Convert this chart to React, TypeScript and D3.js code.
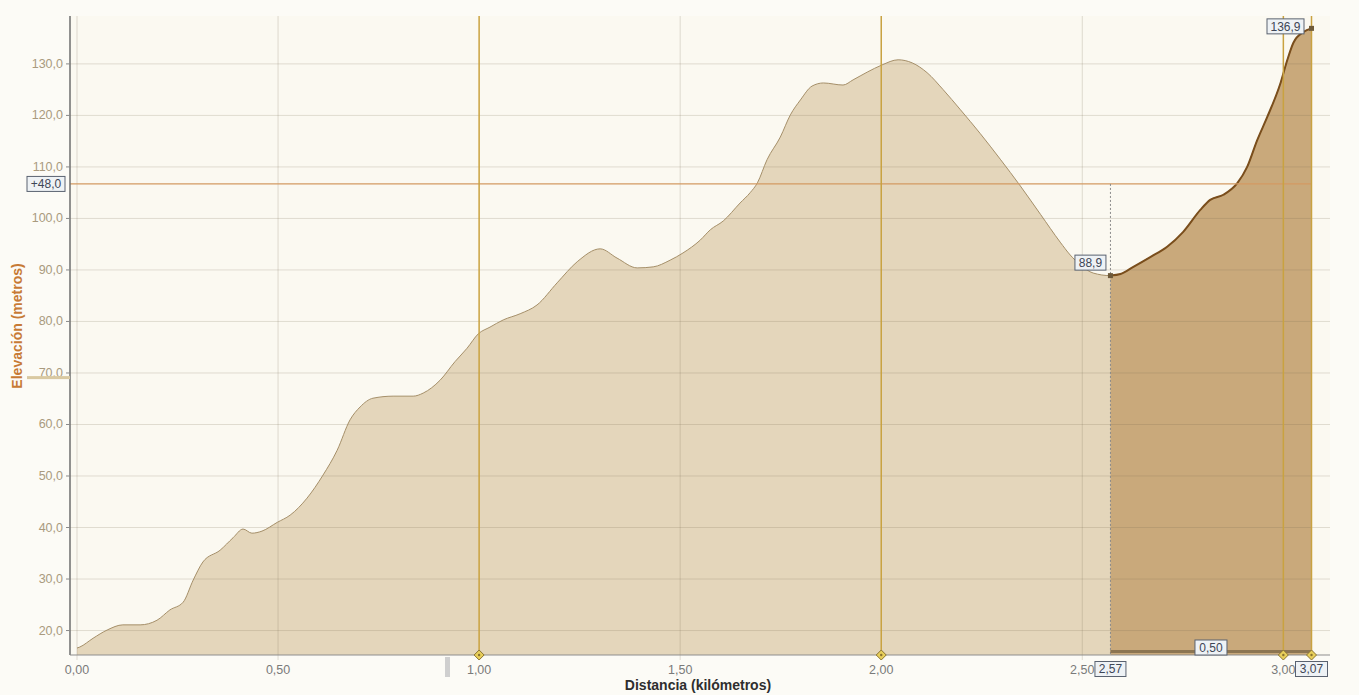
import React from "react";
import * as d3 from "d3";

const distKm = [0.0, 0.007, 0.04, 0.075, 0.114, 0.157, 0.199, 0.231, 0.264, 0.289, 0.313, 0.356, 0.388, 0.413, 0.435, 0.46, 0.498, 0.53, 0.572, 0.612, 0.647, 0.679, 0.704, 0.736, 0.786, 0.836, 0.861, 0.903, 0.94, 0.97, 0.998, 1.027, 1.06, 1.102, 1.144, 1.194, 1.244, 1.301, 1.343, 1.393, 1.433, 1.475, 1.507, 1.55, 1.575, 1.607, 1.649, 1.674, 1.692, 1.716, 1.749, 1.774, 1.799, 1.828, 1.856, 1.905, 1.93, 1.965, 2.002, 2.042, 2.077, 2.114, 2.154, 2.197, 2.246, 2.296, 2.346, 2.396, 2.445, 2.47, 2.495, 2.527, 2.57, 2.595, 2.627, 2.669, 2.711, 2.751, 2.794, 2.818, 2.851, 2.886, 2.91, 2.935, 2.96, 2.993, 3.01, 3.025, 3.05, 3.07];
const elevM = [16.6, 16.8, 18.5, 20.1, 21.1, 21.1, 22.0, 24.0, 25.5, 29.8, 33.3, 35.6, 38.0, 39.7, 38.9, 39.3, 41.0, 42.4, 45.7, 50.2, 55.0, 60.9, 63.4, 65.1, 65.5, 65.5, 66.1, 68.6, 72.2, 74.8, 77.6, 78.9, 80.3, 81.5, 83.2, 87.5, 91.6, 94.1, 92.3, 90.4, 90.6, 91.9, 93.3, 95.8, 97.8, 99.5, 103.0, 105.0, 106.9, 111.4, 115.8, 120.1, 123.0, 125.7, 126.3, 125.9, 126.9, 128.4, 129.8, 130.8, 130.2, 128.3, 125.0, 121.1, 116.5, 111.5, 106.3, 100.8, 95.4, 92.9, 91.0, 89.4, 88.9, 89.2, 90.6, 92.5, 94.5, 97.4, 101.7, 103.6, 104.6, 106.9, 110.0, 115.2, 119.7, 126.3, 130.8, 134.1, 136.2, 136.9];

const yTicks = [20, 30, 40, 50, 60, 70, 80, 90, 100, 110, 120, 130];
const xTicks = [0, 0.5, 1.0, 1.5, 2.0, 2.5, 3.0];
const kmMarkers = [1.0, 2.0, 3.0];
const selStart = 2.57;
const selEnd = 3.07;
const selMinElev = 88.9;
const selMaxElev = 136.9;
const gainRefElev = 106.7;
const gainLabel = "+48,0";
const selLengthLabel = "0,50";
const yTitle = "Elevación (metros)";
const xTitle = "Distancia (kilómetros)";

const W = 1359;
const H = 695;
const plotLeft = 70;
const plotRight = 1330;
const plotTop = 16;
const plotBottom = 655;

const fmt1 = (v: number) => d3.format(".1f")(v).replace(".", ",");
const fmt2 = (v: number) => d3.format(".2f")(v).replace(".", ",");

export default function App() {
  const x = d3.scaleLinear().domain([0, 3.07]).range([77, 1311.5]);
  const y = d3.scaleLinear().domain([15.25, 139.3]).range([plotBottom, plotTop]);

  const pts = distKm.map((d, i) => ({ d, e: elevM[i] }));
  const selPts = pts.filter((p) => p.d >= selStart - 1e-9 && p.d <= selEnd + 1e-9);

  const area = d3
    .area<{ d: number; e: number }>()
    .x((p) => x(p.d))
    .y0(plotBottom)
    .y1((p) => y(p.e))
    .curve(d3.curveMonotoneX);
  const line = d3
    .line<{ d: number; e: number }>()
    .x((p) => x(p.d))
    .y((p) => y(p.e))
    .curve(d3.curveMonotoneX);

  const font = "'Liberation Sans', Arial, sans-serif";
  const gold = "#c9a240";

  const box = (cx: number, cy: number, w: number, text: string, key: string) => (
    <g key={key}>
      <rect x={cx - w / 2} y={cy - 7.5} width={w} height={15} fill="#eef2f5" stroke="#5a6270" strokeWidth={1} />
      <text x={cx} y={cy + 4.3} textAnchor="middle" fontSize={12} fill="#3e4656" fontFamily={font}>
        {text}
      </text>
    </g>
  );

  const diamond = (cx: number, cy: number, key: string) => (
    <g key={key}>
      <path
        d={`M${cx},${cy - 5} L${cx + 5},${cy} L${cx},${cy + 5} L${cx - 5},${cy} Z`}
        fill="#e8cf5a"
        stroke="#8a7330"
        strokeWidth={1}
      />
      <circle cx={cx} cy={cy} r={1.2} fill="#8a7330" />
    </g>
  );

  return (
    <svg
      width={W}
      height={H}
      viewBox={`0 0 ${W} ${H}`}
      style={{ position: "absolute", left: 0, top: 0, display: "block" }}
    >
      <rect x={0} y={0} width={W} height={H} fill="#fcfbf6" />
      <rect x={plotLeft} y={plotTop} width={plotRight - plotLeft} height={plotBottom - plotTop} fill="#fbf9f1" />

      <path d={area(pts) || ""} fill="#e4d6bb" />
      <path d={area(selPts) || ""} fill="#c9a97b" />

      {yTicks.map((t) => (
        <line
          key={"hg" + t}
          x1={plotLeft}
          x2={plotRight}
          y1={y(t)}
          y2={y(t)}
          stroke="rgba(120,105,80,0.2)"
          strokeWidth={1}
        />
      ))}
      {xTicks
        .filter((t) => !kmMarkers.includes(t))
        .map((t) => (
          <line
            key={"vg" + t}
            x1={x(t)}
            x2={x(t)}
            y1={plotTop}
            y2={plotBottom + 5}
            stroke="rgba(120,105,80,0.22)"
            strokeWidth={1}
          />
        ))}

      <path d={line(pts) || ""} fill="none" stroke="#a58f69" strokeWidth={1} />
      <path d={line(selPts) || ""} fill="none" stroke="#7a4e1c" strokeWidth={2} />

      <line x1={plotLeft} x2={x(selEnd)} y1={y(gainRefElev)} y2={y(gainRefElev)} stroke="#d39a62" strokeWidth={1.2} />

      {kmMarkers.map((t) => (
        <line key={"km" + t} x1={x(t)} x2={x(t)} y1={plotTop} y2={plotBottom} stroke={gold} strokeWidth={1.5} />
      ))}
      <line x1={x(selEnd)} x2={x(selEnd)} y1={plotTop} y2={plotBottom} stroke={gold} strokeWidth={1.5} />

      <line
        x1={x(selStart)}
        x2={x(selStart)}
        y1={y(gainRefElev)}
        y2={plotBottom}
        stroke="#8a8a8a"
        strokeWidth={1}
        strokeDasharray="2,2"
      />

      <rect x={x(selStart)} y={plotBottom - 5} width={x(selEnd) - x(selStart)} height={3} fill="#8c7552" />

      <line x1={plotLeft} x2={plotLeft} y1={plotTop} y2={plotBottom} stroke="#6e6e6e" strokeWidth={1.5} />
      <line x1={plotLeft} x2={plotRight} y1={plotBottom} y2={plotBottom} stroke="#8e8e8e" strokeWidth={1.2} />

      {yTicks.map((t) => (
        <g key={"yt" + t}>
          <line x1={plotLeft - 4} x2={plotLeft} y1={y(t)} y2={y(t)} stroke="#8a8a8a" />
          <text
            x={plotLeft - 7}
            y={y(t) + 4}
            textAnchor="end"
            fontSize={12.5}
            fill="#a99a7e"
            fontFamily={font}
          >
            {fmt1(t)}
          </text>
        </g>
      ))}

      {xTicks.map((t) => (
        <text
          key={"xt" + t}
          x={x(t)}
          y={plotBottom + 19}
          textAnchor="middle"
          fontSize={12.5}
          fill="#7a7a7a"
          fontFamily={font}
        >
          {fmt2(t)}
        </text>
      ))}

      <rect x={27} y={y(69.1) - 1.5} width={plotLeft - 27} height={3} fill="#d9c9a2" />
      <rect x={445} y={plotBottom + 2} width={5} height={20} fill="#cfcfcf" />

      {kmMarkers.map((t) => diamond(x(t), plotBottom, "dm" + t))}
      {diamond(x(selEnd), plotBottom, "dmend")}

      <rect x={x(selStart) - 2.5} y={y(selMinElev) - 2.5} width={5} height={5} fill="#6e5a3a" />
      <rect x={x(selEnd) - 2.5} y={y(selMaxElev) - 2.5} width={5} height={5} fill="#6e5a3a" />

      {box(46, y(gainRefElev), 38, gainLabel, "gain")}
      {box(x(selStart) - 20, y(selMinElev) - 13, 31, fmt1(selMinElev), "min")}
      {box(x(selEnd) - 26, y(selMaxElev) - 2, 37, fmt1(selMaxElev), "max")}
      {box((x(selStart) + x(selEnd)) / 2, plotBottom - 7.5, 32, selLengthLabel, "len")}
      {box(x(selStart), plotBottom + 14, 31, fmt2(selStart), "s0")}
      {box(x(selEnd), plotBottom + 14, 32, fmt2(selEnd), "s1")}

      <text
        transform={`translate(22, 326) rotate(-90)`}
        textAnchor="middle"
        fontSize={14}
        fontWeight="bold"
        fill="#c77a35"
        fontFamily={font}
      >
        {yTitle}
      </text>
      <text x={698} y={690} textAnchor="middle" fontSize={14} fontWeight="bold" fill="#2e2e2e" fontFamily={font}>
        {xTitle}
      </text>
    </svg>
  );
}
